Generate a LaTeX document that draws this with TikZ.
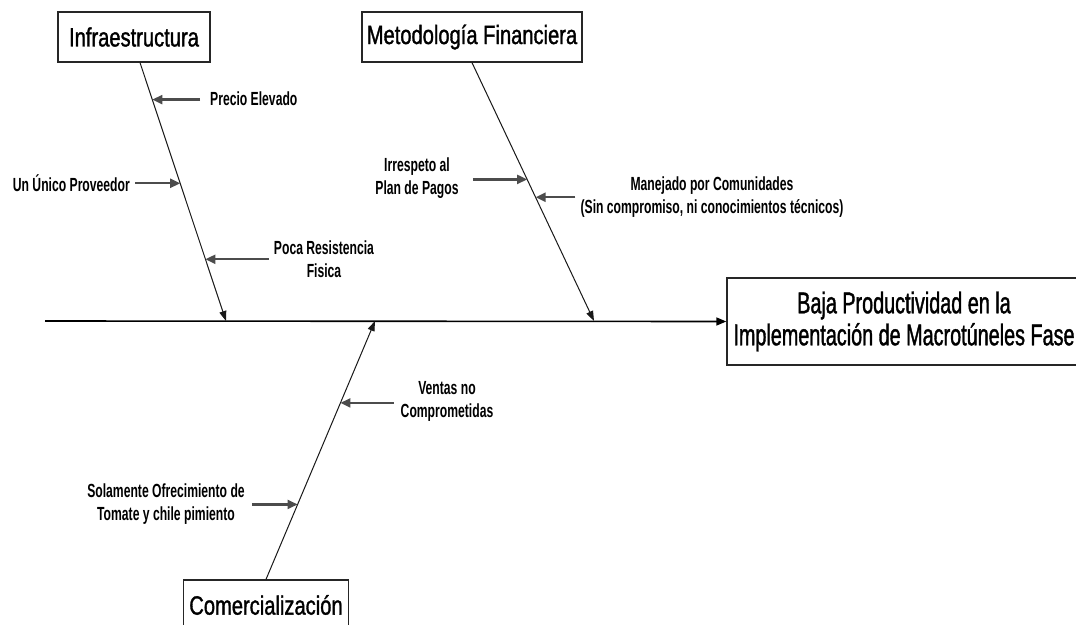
\documentclass[tikz,border=0pt]{standalone}
\usepackage{fontspec}
\setmainfont{Liberation Sans}[FakeStretch=0.76,FakeBold=1.2]
\newfontfamily\efffont{Liberation Sans}[FakeStretch=0.66,FakeBold=1.2]
\newfontfamily\labfont{Liberation Sans Bold}[FakeStretch=0.64]
\usetikzlibrary{arrows.meta,calc}
\begin{document}
\begin{tikzpicture}[x=1pt,y=-1pt,
  catbox/.style={draw=black!85,line width=1.3pt,fill=white,inner sep=0pt,
    font=\fontsize{26.5}{30}\selectfont},
  effbox/.style={draw=black!85,line width=1.3pt,fill=white,inner sep=0pt,align=center,
    font=\efffont\fontsize{30}{32}\selectfont},
  cause/.style={inner sep=0pt,align=center,font=\labfont\fontsize{19}{23}\selectfont},
  bone/.style={draw=black!90,line width=1pt,-{Triangle[length=10pt,width=7pt]}},
  spine/.style={draw=black,line width=1.6pt,-{Triangle[length=10pt,width=8pt]}},
  sub/.style={draw=black!70,line width=2.2pt,-{Triangle[length=10pt,width=9pt]}}]
\clip (0,0) rectangle (1076,624);
\fill[white] (0,0) rectangle (1076,624);

% categories and effect
\node[catbox,minimum width=152pt,minimum height=50pt] (infra) at (134,37) {Infraestructura};
\node[catbox,minimum width=220pt,minimum height=50pt] (metod) at (472,37) {Metodología Financiera};
\node[catbox,minimum width=165pt,minimum height=50pt] (comer) at (266,605) {Comercialización};
\node[effbox,minimum width=354pt,minimum height=87pt] (efecto) at (904,321.5)
  {Baja Productividad en la\\Implementación de Macrotúneles Fase};

% spine
\coordinate (tail) at (45,321);
\draw[spine] (tail) -- (efecto.west);

% bone ends on the spine
\coordinate (iA) at ([xshift=6pt]infra.south);
\coordinate (iB) at (226,321);
\coordinate (mA) at (metod.south);
\coordinate (mB) at (594,321);
\coordinate (cA) at (comer.north);
\coordinate (cB) at (375,321);
\draw[bone] (iA) -- (iB);
\draw[bone] (mA) -- (mB);
\draw[bone] (cA) -- (cB);

% points where the causes meet the bones
\coordinate (i1) at ($(iA)!0.143!(iB)$);
\coordinate (i2) at ($(iA)!0.467!(iB)$);
\coordinate (i3) at ($(iA)!0.761!(iB)$);
\coordinate (m1) at ($(mA)!0.452!(mB)$);
\coordinate (m2) at ($(mA)!0.521!(mB)$);
\coordinate (c1) at ($(cA)!0.683!(cB)$);
\coordinate (c2) at ($(cA)!0.290!(cB)$);

% causes
\node[cause,anchor=west] (pe) at (210,99) {Precio Elevado};
\node[cause,anchor=east] (uu) at (130,183) {Un Único Proveedor};
\node[cause] (pr) at (324,259) {Poca Resistencia\\Fisica};
\node[cause] (ir) at (417,178) {Irrespeto al\\Plan de Pagos};
\node[cause] (ma) at (712,197) {Manejado por Comunidades\\(Sin compromiso, ni conocimientos técnicos)};
\node[cause] (ve) at (447,401) {Ventas no\\Comprometidas};
\node[cause] (so) at (166,504) {Solamente Ofrecimiento de\\Tomate y chile pimiento};

% cause arrows
\draw[sub] ($(pe.west |- i1)+(-10,0)$) -- (i1);
\draw[sub] ($(uu.east |- i2)+(5,0)$) -- (i2);
\draw[sub] ($(pr.west |- i3)+(-5,0)$) -- (i3);
\draw[sub] ($(ir.east |- m1)+(14,0)$) -- (m1);
\draw[sub] ($(ma.west |- m2)+(-5,0)$) -- (m2);
\draw[sub] ($(ve.west |- c1)+(-7,0)$) -- (c1);
\draw[sub] ($(so.east |- c2)+(7,0)$) -- (c2);
\end{tikzpicture}
\end{document}
